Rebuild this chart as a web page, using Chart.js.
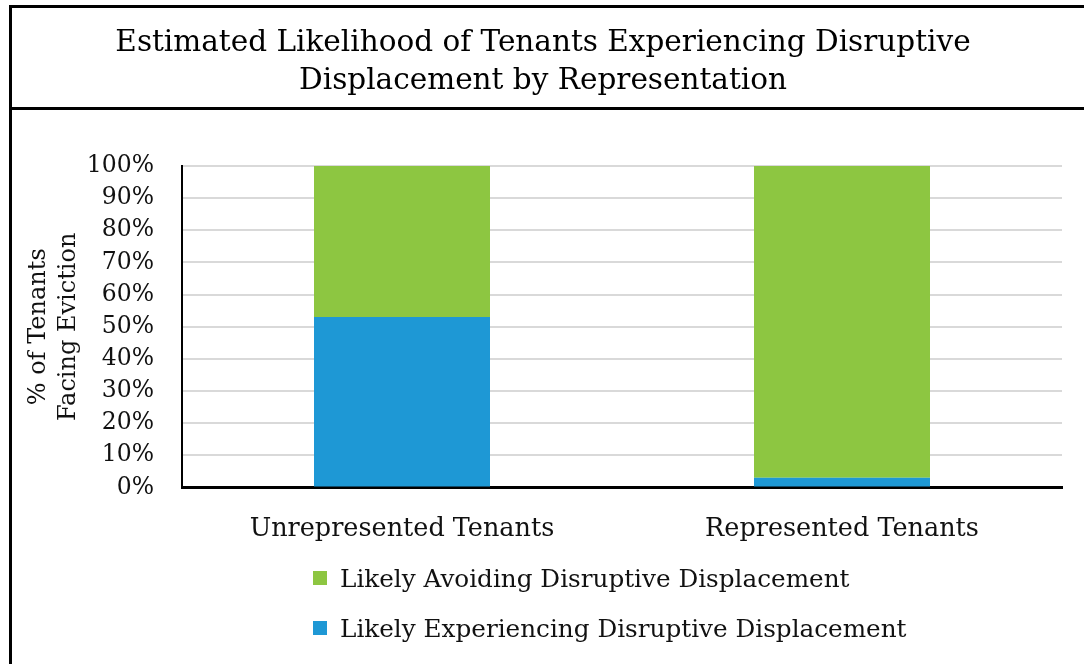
<!DOCTYPE html>
<html>
<head>
<meta charset="utf-8">
<script src="https://cdn.jsdelivr.net/npm/chart.js@4"></script>
<style>
  html, body { margin: 0; padding: 0; background: #fff; }
  #wrap { position: relative; width: 1084px; height: 664px; overflow: hidden; }
  #chart { position: absolute; left: 0; top: 0; }
  .frame { position: absolute; background: #000; }
  #legend { position: absolute; left: 313px; top: 553px; font-family: 'DejaVu Serif', serif; font-size: 24.7px; color: #111; }
  .item { display: flex; align-items: center; height: 50px; }
  .box { width: 14px; height: 14px; margin-right: 13px; }
</style>
</head>
<body>
<div id="wrap">
  <canvas id="chart" width="1084" height="664"></canvas>
  <div class="frame" style="left:9px;top:5px;width:1075px;height:3px;"></div>
  <div class="frame" style="left:9px;top:5px;width:3px;height:659px;"></div>
  <div class="frame" style="left:9px;top:107px;width:1075px;height:3px;"></div>
  <div id="legend"></div>
</div>
<script>
// chart data
const categories = ["Unrepresented Tenants", "Represented Tenants"];
const experiencing = [53, 3];
const avoiding = [47, 97];
const seriesNames = ["Likely Experiencing Disruptive Displacement", "Likely Avoiding Disruptive Displacement"];
const seriesColors = ["#1e98d5", "#8dc641"];

Chart.defaults.font.family = "'DejaVu Serif', serif";
Chart.defaults.color = "#111";

const ctx = document.getElementById("chart").getContext("2d");
const chart = new Chart(ctx, {
  type: "bar",
  data: {
    labels: categories,
    datasets: [
      { label: seriesNames[0], data: experiencing, backgroundColor: seriesColors[0] },
      { label: seriesNames[1], data: avoiding, backgroundColor: seriesColors[1] }
    ]
  },
  options: {
    responsive: false,
    animation: false,
    layout: { padding: { left: 24, right: 22, top: 14, bottom: 100 } },
    datasets: { bar: { categoryPercentage: 1, barPercentage: 0.4 } },
    plugins: {
      legend: { display: false },
      tooltip: { enabled: false },
      title: {
        display: true,
        text: ["Estimated Likelihood of Tenants Experiencing Disruptive", "Displacement by Representation"],
        font: { size: 29.5, weight: "normal", lineHeight: 1.29 },
        color: "#000",
        padding: { top: 10, bottom: 66 }
      }
    },
    scales: {
      x: {
        stacked: true,
        grid: { display: false },
        border: { color: "#000", width: 3 },
        ticks: { font: { size: 25.5 }, padding: 19, color: "#111" }
      },
      y: {
        stacked: true,
        min: 0,
        max: 100,
        afterFit: s => { s.width = 158; },
        grid: { color: "#d9d9d9", lineWidth: 2, drawTicks: false },
        border: { color: "#000", width: 2 },
        ticks: { stepSize: 10, autoSkip: false, font: { size: 23.5 }, padding: 28, color: "#111", callback: v => v + "%" },
        title: {
          display: true,
          text: ["% of Tenants", "Facing Eviction"],
          font: { size: 24, lineHeight: 1.25 },
          color: "#111",
          padding: { top: 0, bottom: 4 }
        }
      }
    }
  }
});

// legend rows, green first like the original
const legend = document.getElementById("legend");
[1, 0].forEach(i => {
  const row = document.createElement("div");
  row.className = "item";
  row.innerHTML = '<div class="box" style="background:' + seriesColors[i] + '"></div><span>' + seriesNames[i] + '</span>';
  legend.appendChild(row);
});
</script>
</body>
</html>
